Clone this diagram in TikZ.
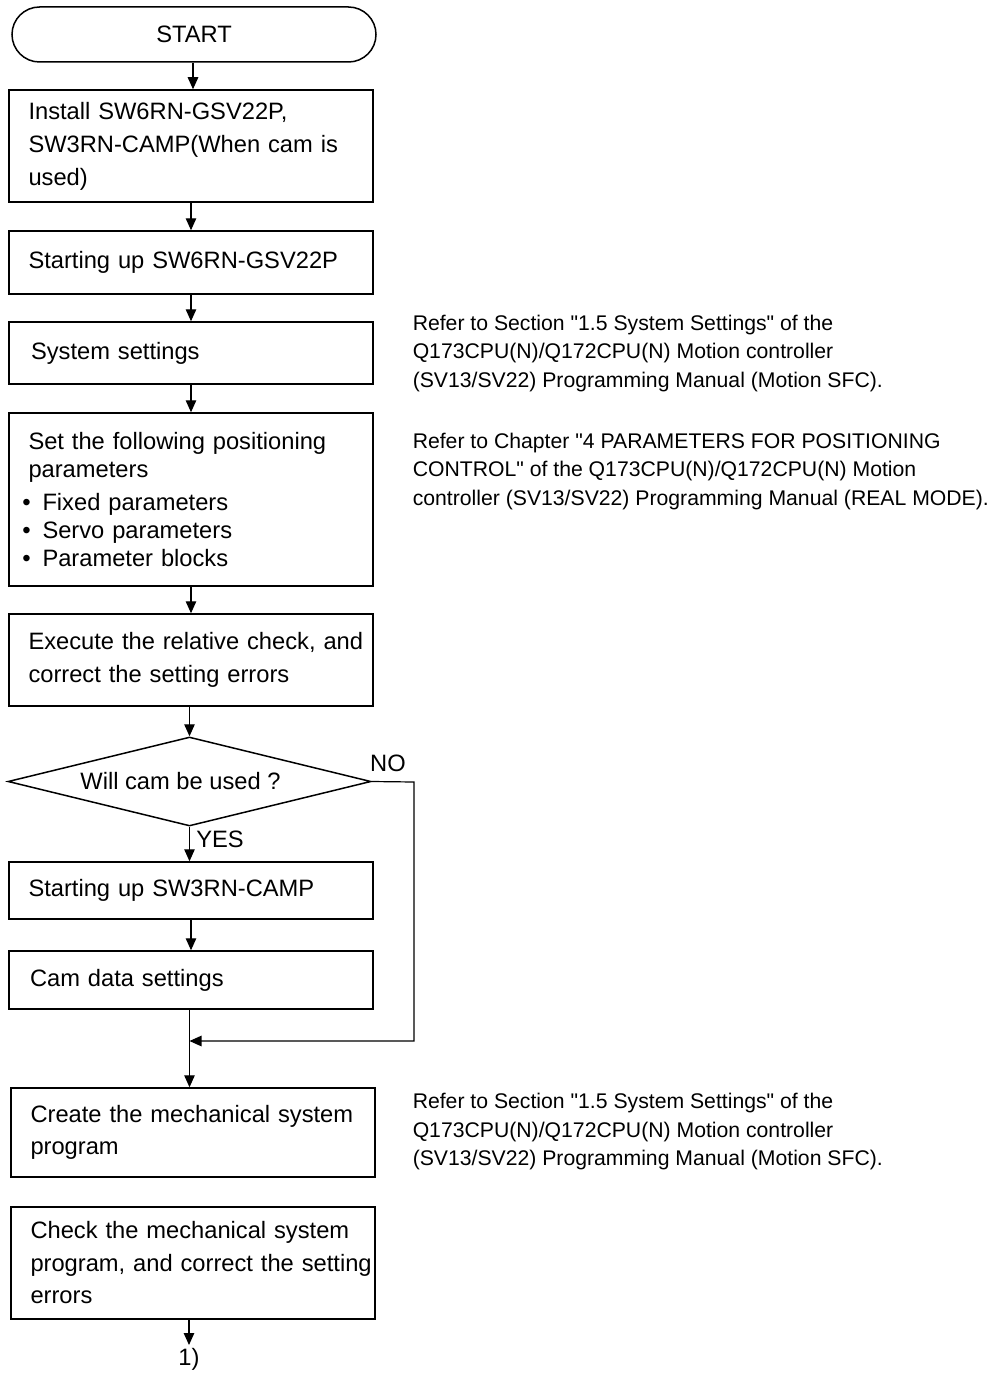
\documentclass[tikz,border=0pt]{standalone}
\usepackage{fontspec}
\newfontfamily\arialf{Liberation Sans}
\usetikzlibrary{arrows.meta,shapes.geometric}
\newcommand{\blt}{\hspace*{-9pt}\makebox[14pt]{\fontsize{24}{24}\selectfont •}\hspace*{9pt}}
\begin{document}
\begin{tikzpicture}[x=1pt,y=-1pt,
  line width=1.5pt,
  arr/.style={line width=1.2pt, -{Triangle[length=12pt,width=10.5pt]}},
  boxtxt/.style={font=\arialf\fontsize{23.7}{32.5}\selectfont},
  stepbox/.style={draw, rectangle, minimum width=364pt, inner xsep=19.5pt, inner ysep=0pt,
    text width=325pt, align=left, boxtxt},
  notetxt/.style={anchor=west, align=left, inner sep=0pt, font=\arialf\fontsize{21.2}{28.5}\selectfont},
  lbl/.style={inner sep=0pt, boxtxt}]
\useasboundingbox (0,0) rectangle (993,1375);

\node[draw, rectangle, rounded corners=27.5pt, minimum width=364pt, minimum height=55pt, boxtxt]
  (start) at (194,34.5) {START};
\node[stepbox, minimum height=112pt, font=\arialf\fontsize{23.7}{33}\selectfont] (b1) at (191,146)
  {\mbox{Install SW6RN-GSV22P,}\\\mbox{SW3RN-CAMP(When cam is}\\\mbox{used)}};
\node[stepbox, minimum height=63pt] (b2) at (191,262.5) {\mbox{Starting up SW6RN-GSV22P}};
\node[stepbox, minimum height=62pt] (b3) at (191,353) {\hspace*{2.5pt}\mbox{System settings}};
\node[stepbox, minimum height=173pt, font=\arialf\fontsize{23.7}{27.7}\selectfont] (b4) at (191,499.5)
  {\mbox{Set the following positioning}\\\mbox{parameters}\\[5.5pt]
   \blt\mbox{Fixed parameters}\\
   \blt\mbox{Servo parameters}\\
   \blt\mbox{Parameter blocks}};
\node[stepbox, minimum height=92pt] (b5) at (191,660)
  {\mbox{Execute the relative check, and}\\\mbox{correct the setting errors}};
\node[draw, diamond, aspect=4.08, minimum width=363pt, minimum height=89pt, inner sep=0pt, boxtxt]
  (dec) at (189.5,781.5) {Will cam be used ?\hspace*{18pt}};
\node[stepbox, minimum height=57pt] (b6) at (191,890.5) {\mbox{Starting up SW3RN-CAMP}};
\node[stepbox, minimum height=58pt] (b7) at (191,980) {\hspace*{1.5pt}\mbox{Cam data settings}};
\node[stepbox, minimum height=89pt] (b8) at (193,1132.5)
  {\mbox{Create the mechanical system}\\\mbox{program}};
\node[stepbox, minimum height=112pt] (b9) at (193,1263)
  {\mbox{Check the mechanical system}\\\mbox{program, and correct the setting}\\\mbox{errors}};
\node[lbl, anchor=north, inner ysep=3pt] (cont) at (189,1345) {1)};

\node[lbl] (no) at (388,763) {NO};
\node[lbl] (yes) at (220,839) {YES};

\node[notetxt] (n1) at (412,353.5)
  {Refer to Section "1.5 System Settings" of the\\Q173CPU(N)/Q172CPU(N) Motion controller\\(SV13/SV22) Programming Manual (Motion SFC).};
\node[notetxt] (n2) at (412,471.5)
  {Refer to Chapter "4 PARAMETERS FOR POSITIONING\\CONTROL" of the Q173CPU(N)/Q172CPU(N) Motion\\controller (SV13/SV22) Programming Manual (REAL MODE).};
\node[notetxt] (n3) at (412,1132)
  {Refer to Section "1.5 System Settings" of the\\Q173CPU(N)/Q172CPU(N) Motion controller\\(SV13/SV22) Programming Manual (Motion SFC).};

\draw[arr] (start.south -| 193,0) -- (b1.north -| 193,0);
\draw[arr] (b1.south) -- (b2.north);
\draw[arr] (b2.south) -- (b3.north);
\draw[arr] (b3.south) -- (b4.north);
\draw[arr] (b4.south) -- (b5.north);
\draw[arr] (b5.south -| dec.north) -- (dec.north);
\draw[arr] (dec.south) -- (dec.south |- b6.north);
\draw[arr] (b6.south) -- (b7.north);
\coordinate (m) at (189.5,1041);
\coordinate (nr) at (414,782);
\draw[arr] (b7.south -| m) -- (m |- b8.north);
\draw[arr] (dec.east) -- (nr) |- (m);
\draw[arr] (b9.south -| cont.north) -- (cont.north);
\end{tikzpicture}
\end{document}
